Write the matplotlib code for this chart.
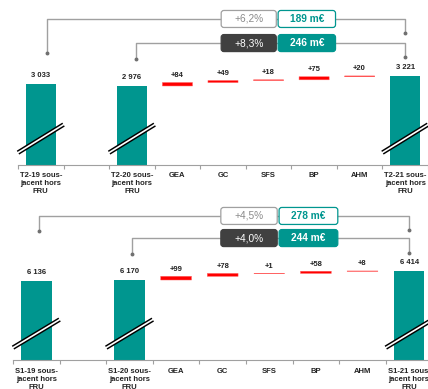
import numpy as np
import matplotlib
matplotlib.use("Agg")
import matplotlib.pyplot as plt
from matplotlib.patches import FancyBboxPatch
from matplotlib.transforms import blended_transform_factory

plt.rcParams["font.family"] = ["Liberation Sans", "DejaVu Sans"]

TEAL = "#00968f"
RED = "#ff0000"
GREY = "#a0a0a0"
DARK = "#404040"
INK = "#222222"

# T2 (trimestre) : sous-jacent hors FRU, en m€
t2_labels = ["T2-19 sous-\njacent hors\nFRU", "", "T2-20 sous-\njacent hors\nFRU",
             "GEA", "GC", "SFS", "BP", "AHM", "T2-21 sous-\njacent hors\nFRU"]
t2_prev = 3033
t2_base = 2976
t2_deltas = [84, 49, 18, 75, 20]
t2_end = 3221
t2_pct_prev, t2_amt_prev = "+6,2%", "189 m€"
t2_pct_yoy, t2_amt_yoy = "+8,3%", "246 m€"

# S1 (semestre)
s1_labels = ["S1-19 sous-\njacent hors\nFRU", "", "S1-20 sous-\njacent hors\nFRU",
             "GEA", "GC", "SFS", "BP", "AHM", "S1-21 sous-\njacent hors\nFRU"]
s1_prev = 6136
s1_base = 6170
s1_deltas = [99, 78, 1, 58, 8]
s1_end = 6414
s1_pct_prev, s1_amt_prev = "+4,5%", "278 m€"
s1_pct_yoy, s1_amt_yoy = "+4,0%", "244 m€"


def fmt(v):
    return f"{v:,}".replace(",", " ")


def box(ax, x0, x1, yc, face, edge, text, tcolor, weight):
    h = 0.103
    p = FancyBboxPatch((x0, yc - h / 2), x1 - x0, h,
                       boxstyle="round,pad=0,rounding_size=0.06",
                       mutation_aspect=0.275,
                       transform=ax._blend, facecolor=face, edgecolor=edge,
                       lw=0.9, clip_on=False, zorder=4)
    ax.add_patch(p)
    ax.text((x0 + x1) / 2, yc, text, transform=ax._blend, ha="center", va="center",
            fontsize=7.3, color=tcolor, fontweight=weight, zorder=5)


def bracket(ax, xl, xr, yt, yl, yr, pct, amt, filled):
    ax.plot([xl, xl, xr, xr], [yl, yt, yt, yr], color=GREY, lw=1.0,
            transform=ax._blend, clip_on=False, zorder=3)
    ax.plot([xl, xr], [yl, yr], "o", ms=1.8, color="#707070",
            transform=ax._blend, clip_on=False, zorder=3)
    if filled:
        box(ax, 3.96, 5.17, yt, DARK, DARK, pct, "white", "normal")
        box(ax, 5.21, 6.47, yt, TEAL, TEAL, amt, "white", "bold")
    else:
        box(ax, 3.96, 5.17, yt, "white", GREY, pct, "#8a8a8a", "normal")
        box(ax, 5.21, 6.47, yt, "white", TEAL, amt, TEAL, "bold")


def draw_panel(ax, labels, prev, base, deltas, end, ylim,
               pct_prev, amt_prev, pct_yoy, amt_yoy, levels, pad):
    ax._blend = blended_transform_factory(ax.transData, ax.transAxes)
    ax.set_xlim(-0.5, 8.5)
    ax.set_ylim(*ylim)
    y0 = ylim[0]

    # barres pleines (axe coupé)
    for pos, val in zip([0, 2, 8], [prev, base, end]):
        ax.bar(pos, val - y0, bottom=y0, width=0.66, color=TEAL, lw=0, zorder=2)
        ax.annotate(fmt(val), (pos, val), xytext=(0, 3.5), textcoords="offset points",
                    ha="center", va="bottom", fontsize=5.5, fontweight="bold", color=INK)
        ax.plot([pos - 0.5, pos + 0.5], [0.075, 0.245], color="black", lw=3.3,
                solid_capstyle="butt", transform=ax._blend, clip_on=False, zorder=3)
        ax.plot([pos - 0.52, pos + 0.52], [0.0715, 0.2485], color="white", lw=1.2,
                solid_capstyle="butt", transform=ax._blend, clip_on=False, zorder=3)

    # contributions par métier
    cum = base
    for k, d in enumerate(deltas):
        pos = 3 + k
        ax.bar(pos, d, bottom=cum, width=0.66, color=RED, edgecolor="#ff6060",
               lw=0.35, snap=False, zorder=2)
        ax.annotate(f"+{d}", (pos, cum + d), xytext=(0, 2.5), textcoords="offset points",
                    ha="center", va="bottom", fontsize=5.5, fontweight="bold", color=INK)
        cum += d

    (o_l, o_t, o_yl, o_yr), (i_l, i_t, i_yl, i_yr) = levels
    bracket(ax, o_l, 8.0, o_t, o_yl, o_yr, pct_prev, amt_prev, False)
    bracket(ax, i_l, 8.0, i_t, i_yl, i_yr, pct_yoy, amt_yoy, True)

    for s in ["top", "left", "right"]:
        ax.spines[s].set_visible(False)
    ax.spines["bottom"].set_color(GREY)
    ax.spines["bottom"].set_linewidth(0.8)
    ax.set_yticks([])
    ax.set_xticks(range(9))
    ax.set_xticklabels(labels, fontsize=5.5, fontweight="bold", color=INK)
    ax.set_xticks(np.arange(-0.5, 9, 1), minor=True)
    ax.tick_params(axis="x", which="major", length=0, pad=pad)
    ax.tick_params(axis="x", which="minor", length=3, color=GREY, width=0.8)
    ax.patch.set_visible(False)


fig = plt.figure(figsize=(4.28, 3.89), dpi=100)
ax_t2 = fig.add_axes([18 / 428, (389 - 165) / 389, 410 / 428, 165 / 389])
ax_s1 = fig.add_axes([13 / 428, (389 - 360) / 389, 419.4 / 428, 165 / 389])

draw_panel(ax_t2, t2_labels, t2_prev, t2_base, t2_deltas, t2_end, (1040, 5082),
           t2_pct_prev, t2_amt_prev, t2_pct_yoy, t2_amt_yoy,
           ((0.13, 0.885, 0.679, 0.80), (2.08, 0.739, 0.642, 0.655)), 5)
draw_panel(ax_s1, s1_labels, s1_prev, s1_base, s1_deltas, s1_end, (4010, 8465),
           s1_pct_prev, s1_amt_prev, s1_pct_yoy, s1_amt_yoy,
           ((0.06, 0.873, 0.782, 0.788), (2.05, 0.739, 0.642, 0.648)), 6)

fig.savefig("out.png", dpi=100)
